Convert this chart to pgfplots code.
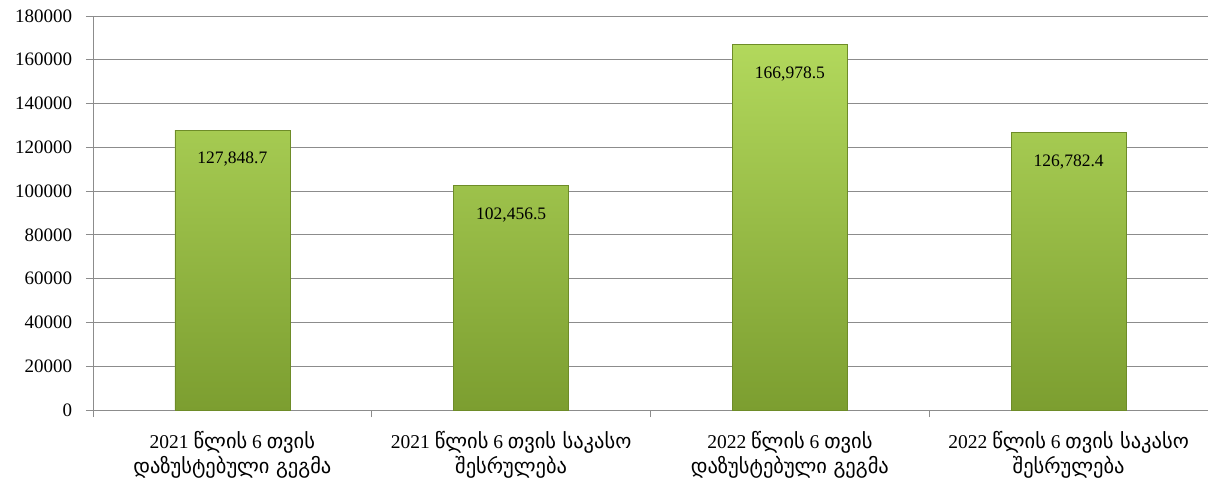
\documentclass[border=0pt]{standalone}
\usepackage{fontspec}
\setmainfont{Liberation Serif}
\newfontfamily\geo[Script=Georgian,Scale=1.05]{DejaVu Sans}
\usepackage{pgfplots}
\pgfplotsset{compat=1.18}
\definecolor{gridgray}{RGB}{140,140,140}
\definecolor{bartop}{RGB}{178,216,92}
\definecolor{barbot}{RGB}{124,158,48}
\definecolor{baredge}{RGB}{110,140,40}
\begin{document}
\fontsize{17}{20}\selectfont
\begin{tikzpicture}
\begin{axis}[
  width=1115pt, height=394pt, scale only axis,
  xmin=-0.5, xmax=3.5,
  ymin=0, ymax=180000,
  ytick={0,20000,40000,60000,80000,100000,120000,140000,160000,180000},
  yticklabels={0,20000,40000,60000,80000,100000,120000,140000,160000,180000},
  scaled y ticks=false,
  ymajorgrids, grid style={gridgray, line width=0.9pt},
  axis x line*=bottom, axis y line*=left,
  axis line style={gridgray, line width=0.9pt},
  tick style={gridgray, line width=0.9pt},
  major tick length=7pt,
  tick align=outside,
  xtick={0,1,2,3},
  major x tick style={draw=none},
  minor xtick={-0.5,0.5,1.5,2.5},
  minor tick length=7pt,
  minor x tick style={gridgray, line width=0.9pt},
  xticklabels={
    {2021 {\geo წლის} 6 {\geo თვის}\\{\geo დაზუსტებული გეგმა}},
    {2021 {\geo წლის} 6 {\geo თვის საკასო}\\{\geo შესრულება}},
    {2022 {\geo წლის} 6 {\geo თვის}\\{\geo დაზუსტებული გეგმა}},
    {2022 {\geo წლის} 6 {\geo თვის საკასო}\\{\geo შესრულება}}},
  xticklabel style={align=center, font=\fontsize{19.5}{25}\selectfont, yshift=-8pt},
  yticklabel style={font=\fontsize{19}{20}\selectfont, xshift=-8pt},
  ybar, bar width=115pt,
  nodes near coords={\pgfmathprintnumber[fixed,precision=1,fixed zerofill,1000 sep={,},assume math mode=true]{\pgfplotspointmeta}},
  nodes near coords style={anchor=north, yshift=-16pt, font=\fontsize{17.5}{20}\selectfont, text=black},
  clip=false,
]
\addplot[draw=baredge, line width=0.6pt, top color=bartop, bottom color=barbot] coordinates {
  (0,127848.7) (1,102456.5) (2,166978.5) (3,126782.4)
};
\path (rel axis cs:0,1) ++(-93pt,16pt) coordinate (bbtl);
\path (rel axis cs:1,0) ++(3pt,-70pt) coordinate (bbbr);
\end{axis}
\useasboundingbox (bbtl) rectangle (bbbr);
\end{tikzpicture}
\end{document}
